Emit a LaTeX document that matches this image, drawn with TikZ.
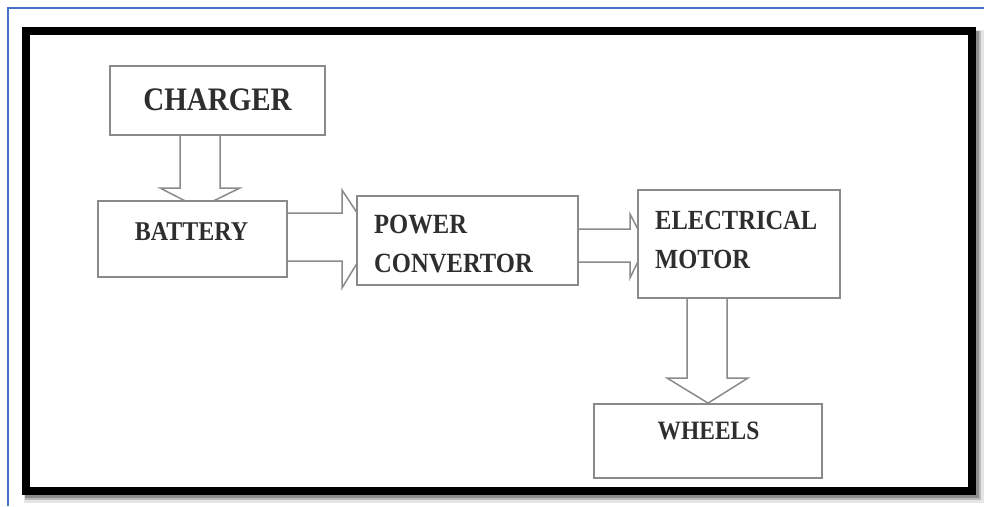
\documentclass[tikz,border=0pt]{standalone}
\usepackage{fontspec}
\newfontfamily\diafont[FakeStretch=0.885]{Liberation Serif}
\usetikzlibrary{calc}
\pgfdeclarelayer{back}
\pgfdeclarelayer{arrowlayer}
\pgfsetlayers{back,arrowlayer,main}
\definecolor{boxgray}{HTML}{8A8A8A}
\definecolor{txtgray}{HTML}{2E2E2E}
\definecolor{bluerule}{HTML}{4472C4}
\tikzset{
  box/.style={draw=boxgray, line width=1.8pt, fill=white, rectangle, inner sep=0pt},
  lbl/.style={inner sep=0pt, text=txtgray},
  blockarrow/.style={draw=boxgray, line width=1.5pt, fill=white, line join=miter},
  lblfont/.style={font=\diafont\bfseries\fontsize{#1}{39}\selectfont}
}
\begin{document}
\begin{tikzpicture}[x=1pt,y=-1pt]
\useasboundingbox (0,0) rectangle (984,506);
\begin{pgfonlayer}{back}
  \fill[white] (0,0) rectangle (984,506);
  % blue page rule
  \draw[bluerule, line width=1.5pt] (8,506) -- (8,8) -- (984,8);
  % frame shadow
  \draw[black, opacity=0.10, line width=14pt] (31,37) rectangle (977,496);
  \draw[black, opacity=0.18, line width=10pt] (30,36) rectangle (976,495);
  \draw[black, opacity=0.25, line width=8pt] (29,35) rectangle (975,494);
  \fill[white] (29.5,35) rectangle (968,487);
  % frame
  \draw[black, line width=8pt] (25.5,31) rectangle (972,491);
\end{pgfonlayer}

% boxes
\node[box, minimum width=215pt, minimum height=69pt] (charger) at (217.5,100.5) {};
\node[box, minimum width=189pt, minimum height=76pt] (battery) at (192.5,239) {};
\node[box, minimum width=221pt, minimum height=89pt] (pc) at (467.5,240.5) {};
\node[box, minimum width=202pt, minimum height=108pt] (motor) at (739,244) {};
\node[box, minimum width=228pt, minimum height=74pt] (wheels) at (708,441) {};

% labels
\node[lbl, lblfont=32.8, anchor=base] (chargertxt) at (217.5,110) {CHARGER};
\node[lbl, lblfont=27.1, anchor=base] (batterytxt) at (191.5,240) {BATTERY};
\node[lbl, lblfont=27.8, anchor=base west, align=left] (pctxt) at (374,272) {POWER\\CONVERTOR};
\node[lbl, lblfont=27.7, anchor=base west, align=left] (motortxt) at (655,268) {ELECTRICAL\\MOTOR};
\node[lbl, lblfont=26.5, anchor=base] (wheelstxt) at (708.5,439) {WHEELS};

% block arrows
\begin{pgfonlayer}{arrowlayer}
  \draw[blockarrow] (charger.south -| 180,0) -- (180,188) -- (160,188) -- (199,208)
    -- (240,188) -- (220,188) -- (charger.south -| 220,0);
  \draw[blockarrow] (battery.east |- 0,213) -- (342,213) -- (342,190) -- (373,237)
    -- (342,288) -- (342,261) -- (battery.east |- 0,261);
  \draw[blockarrow] (pc.east |- 0,229) -- (630,229) -- (630,214) -- (646,245)
    -- (630,278) -- (630,262) -- (pc.east |- 0,262);
  \draw[blockarrow] (motor.south -| 687,0) -- (687,378) -- (667,378) -- (wheels.north)
    -- (748,378) -- (727,378) -- (motor.south -| 727,0);
\end{pgfonlayer}
\end{tikzpicture}
\end{document}
